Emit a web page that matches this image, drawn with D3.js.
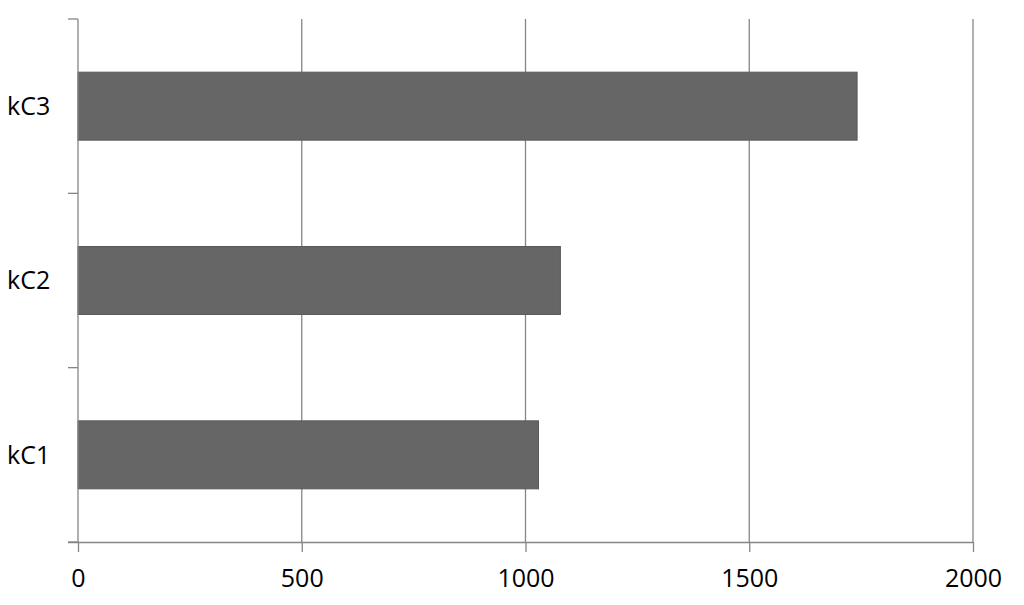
<!DOCTYPE html>
<html><head><meta charset="utf-8">
<script src="https://cdn.jsdelivr.net/npm/d3@7"></script>
<style>body{margin:0;background:#fff}svg{display:block}</style>
</head><body>
<script>
const categories = ["kC3", "kC2", "kC1"];
const values = [1741, 1078, 1029];
const xTicks = [0, 500, 1000, 1500, 2000];

const W = 1024, H = 605;
const m = {left: 78, right: 51, top: 19, bottom: 63};
const svg = d3.select("body").append("svg").attr("width", W).attr("height", H);
const x = d3.scaleLinear().domain([0, 2000]).range([m.left, W - m.right]);
const y = d3.scaleBand().domain(categories).range([m.top, H - m.bottom]).paddingInner(0.61).paddingOuter(0.305);
const band = d3.scaleBand().domain(categories).range([m.top, H - m.bottom]);
const font = "'Open Sans', Lato, sans-serif";

// gridlines
svg.append("g").selectAll("line").data(xTicks.slice(1)).join("line")
  .attr("x1", d => x(d)).attr("x2", d => x(d))
  .attr("y1", m.top).attr("y2", H - m.bottom)
  .attr("stroke", "#868686").attr("stroke-width", 1.3);

// bars
svg.append("g").selectAll("rect").data(categories).join("rect")
  .attr("x", x(0)).attr("y", d => y(d))
  .attr("width", (d, i) => x(values[i]) - x(0))
  .attr("height", y.bandwidth())
  .attr("fill", "#666666").attr("stroke", "#5a5a5a").attr("stroke-width", 1);

// x axis
const xAxis = d3.axisBottom(x).tickValues(xTicks).tickFormat(d3.format("d")).tickSize(10).tickPadding(17).tickSizeOuter(0);
const gx = svg.append("g").attr("transform", `translate(0,${H - m.bottom})`).call(xAxis);
gx.select(".domain").attr("stroke", "#868686").attr("stroke-width", 1.3).attr("d", `M${m.left - 10},0.5H${W - m.right}`);
gx.selectAll(".tick line").attr("stroke", "#868686").attr("stroke-width", 1.3);
gx.selectAll(".tick text").attr("font-family", font).attr("font-size", 25).attr("fill", "#000");

// y axis
const ticksY = categories.map(c => band(c)).concat([H - m.bottom]);
svg.append("line").attr("x1", m.left).attr("x2", m.left).attr("y1", m.top).attr("y2", H - m.bottom)
  .attr("stroke", "#868686").attr("stroke-width", 1.3);
svg.append("g").selectAll("line").data(ticksY).join("line")
  .attr("x1", m.left - 10).attr("x2", m.left).attr("y1", d => d).attr("y2", d => d)
  .attr("stroke", "#868686").attr("stroke-width", 1.3);
svg.append("g").selectAll("text").data(categories).join("text")
  .attr("x", 7).attr("y", d => y(d) + y.bandwidth() / 2)
  .attr("dy", "0.35em")
  .attr("font-family", font).attr("font-size", 25).attr("fill", "#000")
  .text(d => d);
</script>
</body></html>
